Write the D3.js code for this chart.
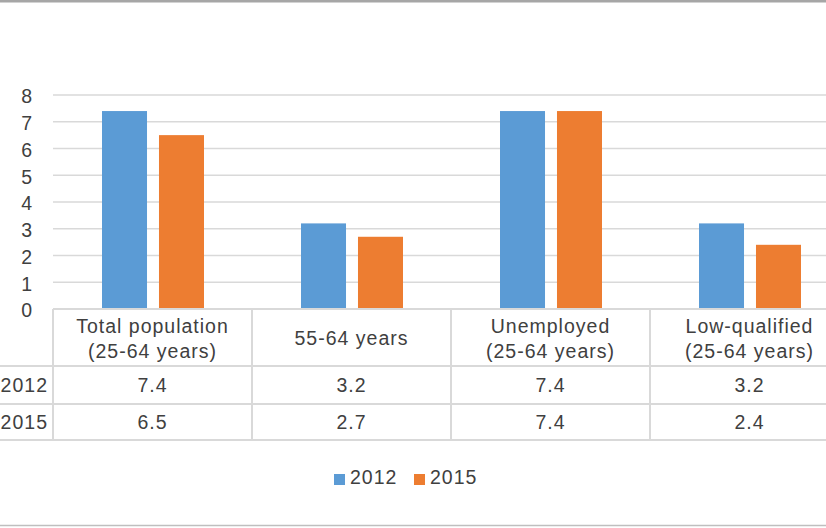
<!DOCTYPE html>
<html>
<head>
<meta charset="utf-8">
<script src="https://cdn.jsdelivr.net/npm/d3@7"></script>
<style>
  body { margin: 0; background: #fff; }
  svg { display: block; font-family: "Liberation Sans", Arial, sans-serif; }
  text { letter-spacing: 1px; }
</style>
</head>
<body>
<svg width="826" height="528"></svg>
<script>
var categories = [["Total population", "(25-64 years)"], ["55-64 years"], ["Unemployed", "(25-64 years)"], ["Low-qualified", "(25-64 years)"]];
var years = ["2012", "2015"];
var values2012 = [7.4, 3.2, 7.4, 3.2];
var values2015 = [6.5, 2.7, 7.4, 2.4];
var yTicks = [0, 1, 2, 3, 4, 5, 6, 7, 8];
var colors = ["#5B9BD5", "#ED7D31"];

var svg = d3.select("svg");
var textColor = "#404040";
var lineColor = "#d9d9d9";
var fs = 19.5;

var left = 53, bandW = 199;
var x = d3.scaleBand().domain(d3.range(categories.length)).range([left, left + bandW * categories.length]);
var xs = d3.scaleBand().domain(years).range([49, 151]).paddingInner(0.21);
var y = d3.scaleLinear().domain([0, 8]).range([309, 95]);

// outer frame lines
svg.append("line").attr("x1", 0).attr("x2", 826).attr("y1", 1).attr("y2", 1)
  .attr("stroke", "#a6a6a6").attr("stroke-width", 3);
svg.append("line").attr("x1", 0).attr("x2", 826).attr("y1", 525.5).attr("y2", 525.5)
  .attr("stroke", "#bfbfbf").attr("stroke-width", 1.5);

// gridlines
svg.append("g").selectAll("line").data(yTicks.filter(function(d) { return d > 0; })).enter()
  .append("line")
  .attr("x1", left).attr("x2", 826)
  .attr("y1", function(d) { return y(d); }).attr("y2", function(d) { return y(d); })
  .attr("stroke", lineColor).attr("stroke-width", 1.5);

// y axis
var yAxis = svg.append("g").attr("transform", "translate(33,0)")
  .call(d3.axisLeft(y).tickValues(yTicks).tickSize(0).tickPadding(0).tickFormat(d3.format("d")));
yAxis.select(".domain").remove();
yAxis.selectAll("text").attr("font-size", fs).attr("fill", textColor)
  .attr("font-family", "Liberation Sans, Arial, sans-serif").attr("dy", "0.4em");

// bars
var series = [values2012, values2015];
series.forEach(function(vals, si) {
  svg.append("g").selectAll("rect").data(vals).enter()
    .append("rect")
    .attr("x", function(d, i) { return x(i) + xs(years[si]); })
    .attr("width", xs.bandwidth())
    .attr("y", function(d) { return y(d); })
    .attr("height", function(d) { return y(0) - y(d); })
    .attr("fill", colors[si]);
});

// data table
var rowY = [309, 366, 404, 440];
var tbl = svg.append("g");
rowY.forEach(function(ry, i) {
  tbl.append("line")
    .attr("x1", i === 0 ? left : 0).attr("x2", 826)
    .attr("y1", ry).attr("y2", ry)
    .attr("stroke", lineColor).attr("stroke-width", 2);
});
d3.range(categories.length).forEach(function(i) {
  tbl.append("line")
    .attr("x1", x(i)).attr("x2", x(i))
    .attr("y1", rowY[0]).attr("y2", rowY[3])
    .attr("stroke", lineColor).attr("stroke-width", 2);
});

// header labels
categories.forEach(function(lines, i) {
  var cx = x(i) + x.bandwidth() / 2;
  var t = tbl.append("text").attr("text-anchor", "middle").attr("font-size", fs).attr("fill", textColor);
  if (lines.length === 2) {
    t.append("tspan").attr("x", cx).attr("y", 333).text(lines[0]);
    t.append("tspan").attr("x", cx).attr("y", 358).text(lines[1]);
  } else {
    t.append("tspan").attr("x", cx).attr("y", 345).text(lines[0]);
  }
});

// value rows
var rowBase = [392, 429];
series.forEach(function(vals, si) {
  tbl.append("text").attr("x", 48).attr("y", rowBase[si]).attr("text-anchor", "end")
    .attr("font-size", fs).attr("fill", textColor).text(years[si]);
  tbl.selectAll(null).data(vals).enter()
    .append("text")
    .attr("x", function(d, i) { return x(i) + x.bandwidth() / 2; })
    .attr("y", rowBase[si])
    .attr("text-anchor", "middle").attr("font-size", fs).attr("fill", textColor)
    .text(function(d) { return d3.format(".1f")(d); });
});

// legend
var legendX = [334, 414];
var lg = svg.append("g");
years.forEach(function(yr, i) {
  lg.append("rect").attr("x", legendX[i]).attr("y", 474).attr("width", 11).attr("height", 11).attr("fill", colors[i]);
  lg.append("text").attr("x", legendX[i] + 16).attr("y", 484).attr("font-size", fs).attr("fill", textColor).text(yr);
});
</script>
</body>
</html>
